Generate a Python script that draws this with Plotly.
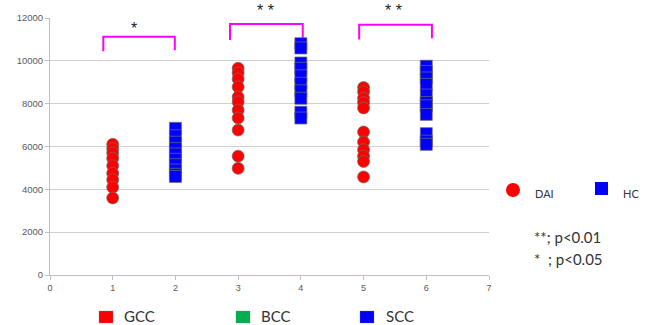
import plotly.graph_objects as go

# ---- data ----
x_ticks = [0, 1, 2, 3, 4, 5, 6, 7]
y_ticks = [0, 2000, 4000, 6000, 8000, 10000, 12000]

dai_x1 = 1
dai_g1 = [6100, 5900, 5700, 5450, 5100, 4750, 4450, 4100, 3600]
hc_x2 = 2
hc_g2 = [6850, 6500, 6200, 5900, 5650, 5400, 5150, 4900, 4700, 4600]
dai_x3 = 3
dai_g3 = [9650, 9430, 9150, 8780, 8310, 8080, 7700, 7330, 6770, 5550, 4980]
hc_x4 = 4
hc_g4 = [10800, 10600, 9900, 9650, 9300, 8950, 8600, 8250, 7600, 7330]
dai_x5 = 5
dai_g5 = [8750, 8550, 8250, 8050, 7800, 6680, 6210, 5850, 5550, 5300, 4580]
hc_x6 = 6
hc_g6 = [9750, 9500, 9200, 8900, 8400, 8050, 7900, 7500, 6600, 6250, 6100]

brackets = [  # x_left, x_right, top, left_bottom, right_bottom, label, label_x, label_y
    (0.85, 1.99, 11120, 10450, 10500, "*", 1.34, 11950),
    (2.87, 4.03, 11720, 10970, 11050, "* *", 3.43, 12780),
    (4.93, 6.09, 11680, 11000, 11050, "* *", 5.47, 12780),
]

dai_all_x = [dai_x1]*len(dai_g1) + [dai_x3]*len(dai_g3) + [dai_x5]*len(dai_g5)
dai_all_y = dai_g1 + dai_g3 + dai_g5
hc_all_x = [hc_x2]*len(hc_g2) + [hc_x4]*len(hc_g4) + [hc_x6]*len(hc_g6)
hc_all_y = hc_g2 + hc_g4 + hc_g6

fig = go.Figure()

Y_MAX = 12000

# bracket lines
for xl, xr, top, lb, rb, lab, lx, ly in brackets:
    fig.add_trace(go.Scatter(x=[xl, xl, xr, xr], y=[lb, top, top, rb], mode="lines",
                             line=dict(color="#FF00FF", width=2), showlegend=False,
                             hoverinfo="skip", cliponaxis=False))
    fig.add_annotation(x=lx, y=ly / Y_MAX, text=lab, showarrow=False, xref="x", yref="paper",
                       borderpad=0,
                       font=dict(size=16, color="#222222", family="Liberation Sans"))

fig.add_trace(go.Scatter(x=dai_all_x, y=dai_all_y, mode="markers", name="DAI",
                         marker=dict(symbol="circle", size=12, color="#FF0000",
                                     line=dict(color="rgba(110,110,110,0.7)", width=1)),
                         showlegend=False))
fig.add_trace(go.Scatter(x=hc_all_x, y=hc_all_y, mode="markers", name="HC",
                         marker=dict(symbol="square", size=12, color="#0000FF",
                                     line=dict(color="rgba(110,110,110,0.7)", width=1)),
                         showlegend=False))

W, H = 647, 325
L, R, T, B = 50, 489, 18, 275

def px(x):
    return (x - L) / (R - L)

def py(y):
    return (B - y) / (B - T)

shapes = []
# right legend markers
shapes.append(dict(type="circle", xref="paper", yref="paper", x0=px(506), x1=px(520),
                   y0=py(197), y1=py(183), fillcolor="#FF0000", line=dict(width=0)))
shapes.append(dict(type="rect", xref="paper", yref="paper", x0=px(595), x1=px(608),
                   y0=py(195), y1=py(182), fillcolor="#0000FF", line=dict(width=0)))
# bottom legend squares
for x0, col in [(99, "#FF0000"), (236, "#00B050"), (360, "#0000FF")]:
    shapes.append(dict(type="rect", xref="paper", yref="paper", x0=px(x0), x1=px(x0 + 14),
                       y0=py(323), y1=py(311), fillcolor=col,
                       line=dict(width=0.5, color="rgba(120,120,120,0.6)")))
fig.update_layout(shapes=shapes)

texts = [
    (534, 193, "DAI", 11),
    (622, 193, "HC", 11),
    (533, 237, "**; p<0.01", 15),
    (533, 259, "*  ; p<0.05", 15),
    (123, 316, "GCC", 15),
    (260, 316, "BCC", 15),
    (385, 316, "SCC", 15),
]
for x, y, t, s in texts:
    fig.add_annotation(x=px(x), y=py(y), xref="paper", yref="paper", text=t, showarrow=False,
                       xanchor="left", yanchor="middle", borderpad=0,
                       font=dict(family="Lato", size=s, color="#333333"))

fig.update_xaxes(range=[0, 7], tickvals=x_ticks, ticktext=[str(v) for v in x_ticks],
                 showgrid=False, zeroline=False, showline=True, linecolor="#BFBFBF",
                 ticks="outside", ticklen=4, tickcolor="#BFBFBF",
                 tickfont=dict(family="Liberation Sans", size=9, color="#595959"))
fig.update_yaxes(range=[0, Y_MAX], tickvals=y_ticks, ticktext=[str(v) for v in y_ticks],
                 showgrid=True, gridcolor="#D0D0D0", zeroline=False, showline=True,
                 linecolor="#BFBFBF", ticks="outside", ticklen=4, tickcolor="#BFBFBF",
                 tickfont=dict(family="Liberation Sans", size=9.5, color="#595959"))

fig.update_layout(width=W, height=H, margin=dict(l=L, r=W - R, t=T, b=H - B),
                  paper_bgcolor="white", plot_bgcolor="white", showlegend=False)

fig.write_html("out.html", config={"displayModeBar": False},
               post_script="document.body.style.margin='0px';document.body.style.overflow='hidden';")
